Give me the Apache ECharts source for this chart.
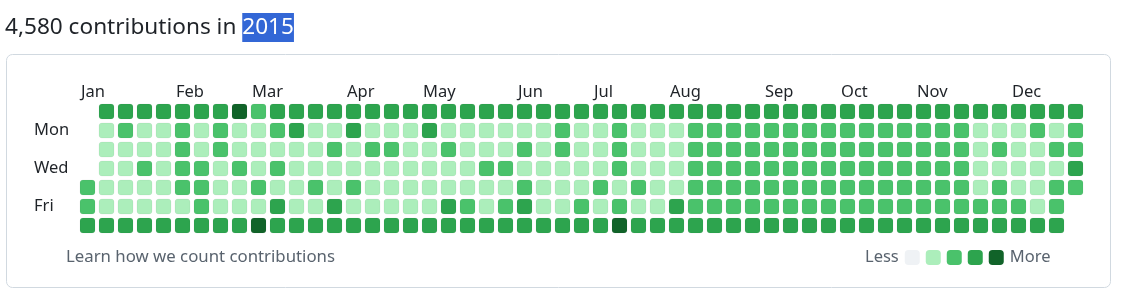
<!DOCTYPE html>
<html>
<head>
<meta charset="utf-8">
<script src="https://cdn.jsdelivr.net/npm/echarts@6/dist/echarts.min.js"></script>
<style>
html,body{margin:0;padding:0;background:#fff;}
#chart{width:1121px;height:299px;}
</style>
</head>
<body>
<div id="chart"></div>
<script>
// ---- data ----
const totalContributions = 4580;
const year = 2015;
const dayLabels = ['', 'Mon', '', 'Wed', '', 'Fri', ''];
const monthLabels = ['Jan','Feb','Mar','Apr','May','Jun','Jul','Aug','Sep','Oct','Nov','Dec'];
const monthStartWeeks = [0, 5, 9, 14, 18, 23, 27, 31, 36, 40, 44, 49];
const levelColors = ['#eff2f5', '#aceebb', '#4ac26b', '#2da44e', '#116329'];
// contribution level (0-4) per week, one array per weekday row
const sunRow = [null,3,3,3,3,3,3,3,4,2,3, 3,3,3,3,3,3,3,3,3,3, 3,3,3,3,3,3,3,3,3,3,3, 3,3,3,3,3,3,3,3,3,3, 3,3,3,3,3,3,3,3,3,3,3];
const monRow = [null,1,2,1,1,2,1,2,1,1,2, 3,1,1,3,1,1,1,3,1,1, 1,1,1,1,2,1,1,2,1,1,1, 2,2,2,2,2,2,2,2,2,2, 2,2,2,2,2,1,1,1,2,1,2];
const tueRow = [null,1,1,1,1,2,1,2,1,1,1, 1,1,2,1,2,2,1,1,2,1, 1,1,2,1,2,1,1,2,1,1,1, 2,2,2,2,2,2,2,2,2,2, 2,2,2,2,2,1,2,1,1,2,2];
const wedRow = [null,1,1,2,1,2,2,1,2,1,2, 1,1,1,1,1,1,1,1,1,1, 2,2,1,1,1,1,1,2,1,1,1, 2,2,2,2,2,2,2,2,2,2, 2,2,2,2,2,1,1,1,1,1,3];
const thuRow = [2,1,1,1,1,2,2,1,1,2,1, 1,2,1,2,1,1,1,1,1,1, 1,1,2,1,1,1,2,1,2,1,1, 2,2,2,2,2,2,2,2,2,2, 2,2,2,2,2,1,2,1,1,2,2];
const friRow = [2,1,1,1,1,1,2,1,1,1,3, 1,1,3,1,1,1,1,1,3,2, 1,2,3,1,1,2,1,2,1,1,3, 2,2,2,2,2,2,2,2,2,2, 2,2,2,2,2,2,2,2,1,2,null];
const satRow = [3,3,3,3,3,3,3,3,3,4,3, 3,3,3,3,3,3,3,3,3,3, 3,3,3,3,3,3,3,4,3,3,3, 3,3,3,3,3,3,3,3,3,3, 3,3,3,3,3,3,3,3,3,3,null];
const legendTexts = ['Less', 'More'];
const footerText = 'Learn how we count contributions';

// ---- build ----
const rows = [sunRow, monRow, tueRow, wedRow, thuRow, friRow, satRow];
const cells = [];
rows.forEach((row, r) => row.forEach((v, c) => { if (v !== null) cells.push([c, r, v]); }));
const monthByWeek = {};
monthStartWeeks.forEach((w, i) => { monthByWeek[w] = monthLabels[i]; });

const FONT = '"Noto Sans", "Open Sans", sans-serif';
const chart = echarts.init(document.getElementById('chart'), null, {renderer: 'canvas'});
chart.setOption({
  animation: false,
  title: {
    text: '{a|' + totalContributions.toLocaleString('en-US') + ' contributions in }{b|' + year + '}',
    left: 5, top: 13, padding: 0,
    textStyle: {
      fontWeight: 'normal',
      rich: {
        a: {fontSize: 22.6, fontWeight: 'normal', color: '#1f2328', fontFamily: FONT, lineHeight: 29},
        b: {fontSize: 22.6, fontWeight: 'normal', color: '#ffffff', fontFamily: FONT, backgroundColor: '#3367d6', lineHeight: 29, height: 29}
      }
    }
  },
  grid: {left: 78, top: 102, width: 1007, height: 133},
  xAxis: {
    type: 'value', min: -0.5, max: 52.5, position: 'top',
    axisLine: {show: false}, axisTick: {show: false}, splitLine: {show: false},
    axisLabel: {
      customValues: monthStartWeeks.map(w => w - 0.5),
      formatter: v => monthByWeek[Math.round(v + 0.5)] || '',
      align: 'left', margin: 1, padding: [0, 0, 0, 3], fontSize: 16.5, color: '#1f2328', fontFamily: FONT
    }
  },
  yAxis: {
    type: 'category', inverse: true, data: dayLabels,
    axisLine: {show: false}, axisTick: {show: false}, splitLine: {show: false},
    axisLabel: {interval: 0, align: 'left', margin: 44, fontSize: 16.5, color: '#1f2328', fontFamily: FONT}
  },
  visualMap: {
    type: 'piecewise', seriesIndex: 0, dimension: 2,
    orient: 'horizontal', left: 865, top: 249, padding: 0,
    pieces: levelColors.map((col, i) => ({value: i, color: col})),
    itemWidth: 15, itemHeight: 15, itemGap: 6, itemSymbol: 'roundRect',
    showLabel: false, text: [legendTexts[1], legendTexts[0]], textGap: 6,
    selectedMode: false, hoverLink: false,
    textStyle: {fontSize: 16.5, color: '#59636e', fontFamily: FONT}
  },
  graphic: [
    {type: 'rect', shape: {x: 6.5, y: 54.5, width: 1104, height: 233, r: 6},
     style: {fill: 'none', stroke: '#d1d9e0', lineWidth: 1}, z: -1},
    {type: 'text', left: 66, top: 249,
     style: {text: footerText, fontSize: 16.8, fill: '#59636e', fontFamily: FONT}}
  ],
  series: [{
    type: 'custom',
    data: cells,
    renderItem: (params, api) => {
      const p = api.coord([api.value(0), api.value(1)]);
      const sz = api.size([1, 1]);
      const w = sz[0] - 4, h = sz[1] - 4;
      return {
        type: 'rect',
        shape: {x: p[0] - w / 2, y: p[1] - h / 2, width: w, height: h, r: 3},
        style: {fill: api.visual('color'), stroke: 'rgba(31,35,40,0.05)', lineWidth: 1}
      };
    }
  }]
});
</script>
</body>
</html>
